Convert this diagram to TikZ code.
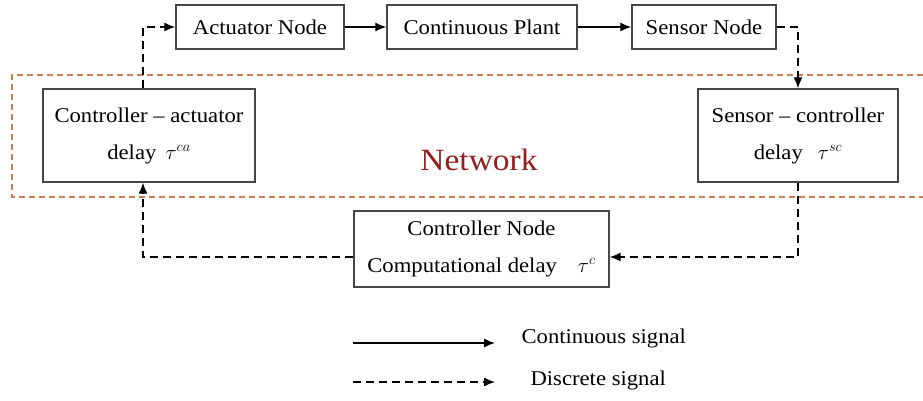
\documentclass[tikz,border=0pt]{standalone}
\usepackage{fontspec}
\setmainfont{Liberation Serif}[FakeStretch=1.08]
\usepackage{amsmath}
\usetikzlibrary{arrows.meta}
\definecolor{netline}{RGB}{205,125,80}
\definecolor{nettext}{RGB}{150,30,30}
\definecolor{boxline}{RGB}{70,70,70}

\begin{document}
\begin{tikzpicture}[x=1pt,y=-1pt,
    font=\fontsize{21}{37}\selectfont,
    blk/.style={draw=boxline,line width=1.4pt,inner sep=0pt,align=center},
    cont/.style={line width=1.3pt,-{Latex[length=11pt,width=9pt]}},
    disc/.style={line width=1.3pt,dash pattern=on 8pt off 5pt,-{Latex[length=11pt,width=9pt]}}]
  \useasboundingbox (0,0) rectangle (923,401);
  \draw[netline,line width=1.4pt,dash pattern=on 6pt off 4pt] (923,75) -- (12,75) -- (12,197) -- (923,197);
  \node[nettext,font=\fontsize{31}{36}\selectfont] (net) at (479,160) {Network};
  \node[blk,minimum width=168pt,minimum height=44pt] (act) at (260,27) {Actuator Node};
  \node[blk,minimum width=190pt,minimum height=44pt] (plant) at (482,27) {Continuous Plant};
  \node[blk,minimum width=144pt,minimum height=44pt] (sens) at (704,27) {Sensor Node};
  \node[blk,minimum width=212pt,minimum height=93pt] (ca) at (149,135.5) {Controller -- actuator\\ delay\, $\tau^{ca}$};
  \node[blk,minimum width=200pt,minimum height=93pt] (sc) at (798,135.5) {Sensor -- controller\\ delay\;\, $\tau^{sc}$};
  \node[blk,minimum width=255pt,minimum height=76pt] (ctrl) at (481.5,249) {Controller Node\\ Computational delay\quad $\tau^{c}$};
  \coordinate (fb) at (0,257);
  \coordinate (lx) at (143,0);
  \draw[cont] (act) -- (plant);
  \draw[cont] (plant) -- (sens);
  \draw[disc] (sens.east) -| (sc.north);
  \draw[disc] (sc.south) |- (ctrl.east |- fb);
  \draw[disc] (ctrl.west |- fb) -| (ca.south -| lx);
  \draw[disc] (ca.north -| lx) |- (act.west);
  \coordinate (c1) at (353,343);
  \coordinate (c2) at (495,343);
  \coordinate (d1) at (353,382);
  \coordinate (d2) at (495,382);
  \draw[cont] (c1) -- (c2);
  \draw[disc] (d1) -- (d2);
  \node[anchor=west] (lcont) at (518,338) {Continuous signal};
  \node[anchor=west] (ldisc) at (527,380) {Discrete signal};
\end{tikzpicture}
\end{document}
